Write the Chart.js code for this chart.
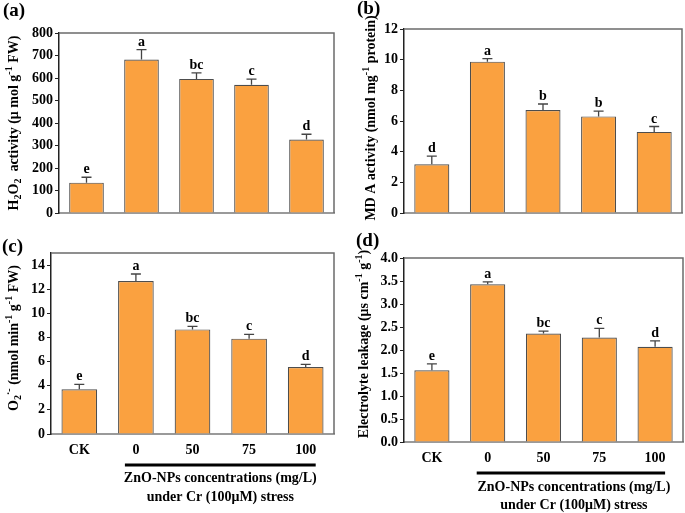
<!DOCTYPE html>
<html>
<head>
<meta charset="utf-8">
<script src="https://cdn.jsdelivr.net/npm/chart.js@4.4.0/dist/chart.umd.min.js"></script>
<style>
  body { margin: 0; background: #fff; }
  #wrap { position: relative; width: 685px; height: 513px; }
  canvas { position: absolute; }
</style>
</head>
<body>
<div id="wrap">
  <canvas id="pa" width="342" height="230" style="left:0;top:0"></canvas>
  <canvas id="pb" width="343" height="230" style="left:342px;top:0"></canvas>
  <canvas id="pc" width="342" height="283" style="left:0;top:230px"></canvas>
  <canvas id="pd" width="343" height="283" style="left:342px;top:230px"></canvas>
</div>
<script>
// treatments
const categories = ['CK', '0', '50', '75', '100'];

// (a) H2O2
const h2o2 = [135, 682, 596, 570, 327];
const h2o2Err = [24, 44, 27, 25, 23];
const h2o2Letters = ['e', 'a', 'bc', 'c', 'd'];

// (b) MDA
const mda = [3.18, 9.87, 6.71, 6.30, 5.29];
const mdaErr = [0.53, 0.20, 0.40, 0.35, 0.35];
const mdaLetters = ['d', 'a', 'b', 'b', 'c'];

// (c) O2.-
const o2 = [3.70, 12.68, 8.67, 7.90, 5.55];
const o2Err = [0.42, 0.58, 0.25, 0.36, 0.22];
const o2Letters = ['e', 'a', 'bc', 'c', 'd'];

// (d) electrolyte leakage
const el = [1.56, 3.43, 2.36, 2.27, 2.07];
const elErr = [0.14, 0.05, 0.05, 0.20, 0.13];
const elLetters = ['e', 'a', 'bc', 'c', 'd'];

const SERIF = '"Liberation Serif", "Times New Roman", serif';
const BAR = '#FAA140';

// draws a rotated label with sub/superscripts
function richText(ctx, parts, cx, cy, size) {
  ctx.save();
  ctx.translate(cx, cy);
  ctx.rotate(-Math.PI / 2);
  const small = Math.round(size * 0.68);
  const fontOf = p => 'bold ' + (p.sub || p.sup ? small : size) + 'px ' + SERIF;
  let total = 0;
  parts.forEach(p => { ctx.font = fontOf(p); total += ctx.measureText(p.t).width; });
  let xx = -total / 2;
  ctx.textBaseline = 'alphabetic';
  ctx.fillStyle = '#000';
  const base = size * 0.35;
  parts.forEach(p => {
    ctx.font = fontOf(p);
    let dy = base;
    if (p.sub) dy += size * 0.25;
    if (p.sup) dy -= size * 0.45;
    ctx.fillText(p.t, xx, dy);
    xx += ctx.measureText(p.t).width;
  });
  ctx.restore();
}

function makePanel(p) {
  const extras = {
    id: 'extras',
    afterDraw(chart) {
      const ctx = chart.ctx, ca = chart.chartArea;
      const xs = chart.scales.x, ys = chart.scales.y;
      ctx.save();
      // top and right frame
      ctx.strokeStyle = '#6b6b6b';
      ctx.lineWidth = 1.5;
      ctx.beginPath();
      ctx.moveTo(ca.left, ca.top);
      ctx.lineTo(ca.right, ca.top);
      ctx.lineTo(ca.right, ca.bottom);
      ctx.stroke();

      // error bars + letters
      const meta = chart.getDatasetMeta(0);
      meta.data.forEach((bar, i) => {
        const yTop = ys.getPixelForValue(p.values[i]);
        const yErr = ys.getPixelForValue(p.values[i] + p.errors[i]);
        ctx.strokeStyle = '#444';
        ctx.lineWidth = 1.3;
        ctx.beginPath();
        ctx.moveTo(bar.x, yTop);
        ctx.lineTo(bar.x, yErr);
        ctx.moveTo(bar.x - 5, yErr);
        ctx.lineTo(bar.x + 5, yErr);
        ctx.stroke();
        ctx.fillStyle = '#000';
        ctx.font = 'bold 14px ' + SERIF;
        ctx.textAlign = 'center';
        ctx.textBaseline = 'alphabetic';
        ctx.fillText(p.letters[i], bar.x, yErr - 4);
      });

      // panel letter
      ctx.font = 'bold 19px ' + SERIF;
      ctx.textAlign = 'left';
      ctx.textBaseline = 'middle';
      ctx.fillText(p.tag, p.tagX, p.tagY);

      // y axis title
      richText(ctx, p.title, p.titleX, p.titleY, 14);

      // treatment bracket for bottom panels
      if (p.bracket) {
        const x1 = xs.getPixelForValue(1) - 11;
        const x2 = xs.getPixelForValue(4) + 10;
        ctx.strokeStyle = '#000';
        ctx.lineWidth = 3;
        ctx.beginPath();
        ctx.moveTo(x1, p.bracket.y);
        ctx.lineTo(x2, p.bracket.y);
        ctx.stroke();
        ctx.font = 'bold 14px ' + SERIF;
        ctx.textAlign = 'center';
        ctx.textBaseline = 'middle';
        const mid = (x1 + x2) / 2 + p.bracket.dx;
        ctx.fillText('ZnO-NPs concentrations (mg/L)', mid, p.bracket.l1);
        ctx.fillText('under Cr (100\u03bcM) stress', mid, p.bracket.l2);
      }
      ctx.restore();
    }
  };

  new Chart(document.getElementById(p.id), {
    type: 'bar',
    data: {
      labels: categories,
      datasets: [{
        data: p.values,
        backgroundColor: BAR,
        borderColor: '#4d4d4d',
        borderWidth: 1.2,
        categoryPercentage: 1,
        barPercentage: 0.63
      }]
    },
    options: {
      responsive: false,
      animation: false,
      events: [],
      layout: { padding: { top: p.top, right: p.right, left: 0, bottom: 0 } },
      plugins: { legend: { display: false }, tooltip: { enabled: false } },
      scales: {
        x: {
          grid: { display: false, drawTicks: false },
          border: { color: '#9a9a9a', width: 2 },
          ticks: {
            display: p.showX,
            color: '#000',
            padding: 8,
            font: { family: SERIF, size: 14, weight: 'bold' }
          },
          afterFit: s => { s.height = p.xh; }
        },
        y: {
          min: 0,
          max: p.max,
          grid: { drawOnChartArea: false, drawTicks: true, tickLength: 4, color: '#222' },
          border: { color: '#222', width: 1.5 },
          ticks: {
            stepSize: p.step,
            includeBounds: false,
            color: '#000',
            padding: 2,
            font: { family: SERIF, size: 14, weight: 'bold' },
            callback: v => p.fmt ? v.toFixed(1) : v
          },
          afterFit: s => { s.width = p.left; }
        }
      }
    },
    plugins: [extras]
  });
}

makePanel({
  id: 'pa', values: h2o2, errors: h2o2Err, letters: h2o2Letters,
  max: 800, step: 100, left: 59, top: 33, right: 8, xh: 17, showX: false,
  tag: '(a)', tagX: 3, tagY: 11,
  title: [{t: 'H'}, {t: '2', sub: true}, {t: 'O'}, {t: '2', sub: true}, {t: '  activity (\u03bc mol g'}, {t: '-1', sup: true}, {t: ' FW)'}],
  titleX: 13, titleY: 123
});

makePanel({
  id: 'pb', values: mda, errors: mdaErr, letters: mdaLetters,
  max: 12, step: 2, left: 62, top: 29, right: 3, xh: 17, showX: false,
  tag: '(b)', tagX: 15, tagY: 9,
  title: [{t: 'MD A activity (nmol mg'}, {t: '-1', sup: true}, {t: ' protein)'}],
  titleX: 28, titleY: 118
});

makePanel({
  id: 'pc', values: o2, errors: o2Err, letters: o2Letters,
  max: 15, step: 2, left: 51, top: 23, right: 8, xh: 79, showX: true,
  tag: '(c)', tagX: 2, tagY: 17,
  title: [{t: 'O'}, {t: '2', sub: true}, {t: '\u00b7-', sup: true}, {t: ' (nmol min'}, {t: '-1', sup: true}, {t: ' g'}, {t: '-1', sup: true}, {t: ' FW)'}],
  titleX: 13, titleY: 108,
  bracket: { y: 235, l1: 248, l2: 267, dx: 0 }
});

makePanel({
  id: 'pd', values: el, errors: elErr, letters: elLetters,
  max: 4, step: 0.5, fmt: true, left: 62, top: 28, right: 2, xh: 71, showX: true,
  tag: '(d)', tagX: 14, tagY: 11,
  title: [{t: 'Electrolyte leakage (\u03bcs cm'}, {t: '-1', sup: true}, {t: ' g'}, {t: '-1', sup: true}, {t: ')'}],
  titleX: 21, titleY: 114,
  bracket: { y: 243, l1: 257, l2: 275, dx: 3 }
});
</script>
</body>
</html>
